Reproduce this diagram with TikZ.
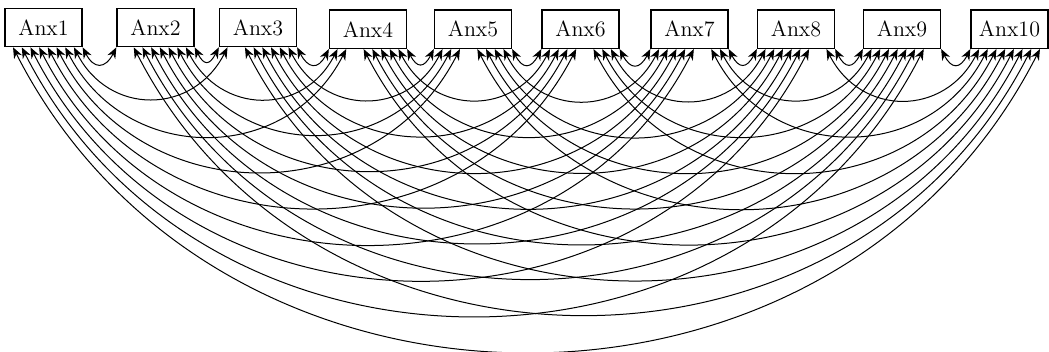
\documentclass[tikz,border=0pt]{standalone}
\usetikzlibrary{arrows.meta,calc}
\begin{document}
\begin{tikzpicture}[x=0.5pt,y=0.5pt,
  box/.style={draw,line width=0.65pt,minimum width=38.5pt,minimum height=19.2pt,inner sep=0pt,font=\fontsize{11}{13}\selectfont},
  link/.style={line width=0.5pt,{Stealth[length=5.5pt,width=4.4pt]}-{Stealth[length=5.5pt,width=4.4pt]}}]
\useasboundingbox (0,0) rectangle (1049,-352);
% the ten boxes
\node[box] (n1)  at (43.5,-27.5)  {Anx1};
\node[box] (n2)  at (155.5,-27.5) {Anx2};
\node[box] (n3)  at (258,-27.5)   {Anx3};
\node[box] (n4)  at (368,-29.2)   {Anx4};
\node[box] (n5)  at (473,-29.2)   {Anx5};
\node[box] (n6)  at (580.5,-29.2) {Anx6};
\node[box] (n7)  at (689.5,-29.2) {Anx7};
\node[box] (n8)  at (796,-29.2)   {Anx8};
\node[box] (n9)  at (902,-29.2)   {Anx9};
\node[box] (n10) at (1009.5,-29.2){Anx10};
% every pair joined by a two-headed arc below the row;
% each box bottom is split into ten slots, nearest partner at the outer slot
\foreach \i in {1,...,9}{
  \pgfmathtruncatemacro\ii{\i+1}
  \foreach \j in {\ii,...,10}{
    \pgfmathsetmacro\fa{(10-\j+\i)/9}
    \pgfmathsetmacro\fb{(\j-1-\i)/9}
    \draw[link] let \p1=($(n\i.south west)!\fa!(n\i.south east)$),
                    \p2=($(n\j.south west)!\fb!(n\j.south east)$),
                    \n1={\x2-\x1} in
      (\p1) .. controls (\x1+0.196*\n1+2.3pt,\y1-0.385*\n1-4.5pt)
               and (\x2-0.196*\n1-2.3pt,\y2-0.385*\n1-4.5pt) .. (\p2);
  }
}
\end{tikzpicture}
\end{document}
